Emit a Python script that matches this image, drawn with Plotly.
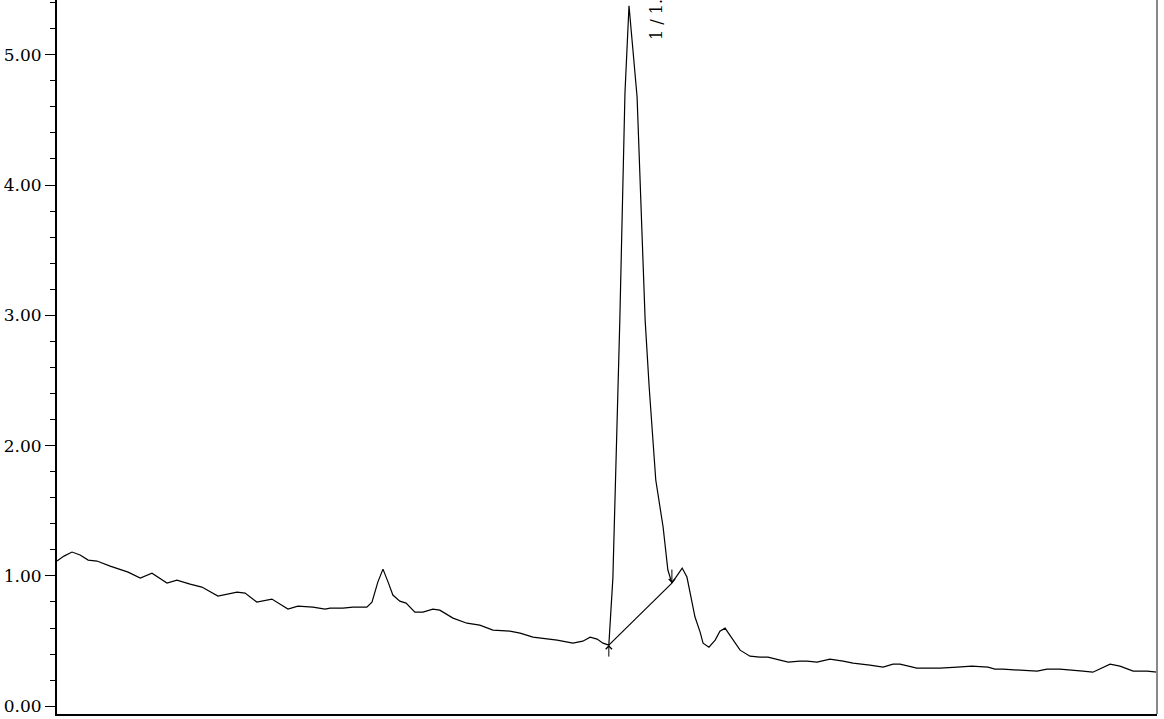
import plotly.graph_objects as go

# Retention time (min) and intensity
time_min = [0.000, 0.019, 0.041, 0.063, 0.085, 0.109, 0.145, 0.194, 0.227, 0.259,
            0.300, 0.327, 0.363, 0.395, 0.439, 0.491, 0.513, 0.545, 0.586, 0.630,
            0.657, 0.698, 0.731, 0.745, 0.780, 0.807, 0.845, 0.859, 0.875, 0.889,
            0.903, 0.916, 0.935, 0.952, 0.976, 0.998, 1.025, 1.044, 1.080, 1.118,
            1.153, 1.189, 1.235, 1.263, 1.298, 1.336, 1.364, 1.407, 1.434, 1.454,
            1.473, 1.489, 1.505, 1.516, 1.535, 1.549, 1.560, 1.582, 1.604, 1.615,
            1.633, 1.653, 1.666, 1.677, 1.691, 1.705, 1.718, 1.740, 1.754, 1.762,
            1.778, 1.795, 1.808, 1.822, 1.835, 1.863, 1.890, 1.917, 1.939, 1.964,
            1.994, 2.026, 2.045, 2.073, 2.108, 2.144, 2.171, 2.217, 2.253, 2.280,
            2.299, 2.345, 2.381, 2.408, 2.455, 2.495, 2.539, 2.558, 2.580, 2.618,
            2.673, 2.700, 2.735, 2.798, 2.825, 2.872, 2.899, 2.935, 2.973, 3.000]
intensity = [1.114, 1.152, 1.183, 1.160, 1.121, 1.114, 1.075, 1.029, 0.983, 1.021,
             0.945, 0.968, 0.937, 0.914, 0.845, 0.876, 0.868, 0.799, 0.822, 0.745,
             0.768, 0.760, 0.745, 0.753, 0.753, 0.760, 0.760, 0.799, 0.952, 1.052,
             0.952, 0.853, 0.806, 0.791, 0.722, 0.722, 0.745, 0.737, 0.676, 0.637,
             0.622, 0.584, 0.576, 0.561, 0.530, 0.515, 0.507, 0.484, 0.499, 0.530,
             0.515, 0.484, 0.469, 0.983, 2.965, 4.708, 5.376, 4.677, 2.965, 2.450,
             1.736, 1.375, 1.045, 0.945, 1.006, 1.060, 0.991, 0.684, 0.568, 0.484,
             0.453, 0.507, 0.576, 0.599, 0.545, 0.430, 0.384, 0.376, 0.376, 0.361,
             0.338, 0.346, 0.346, 0.338, 0.361, 0.346, 0.330, 0.315, 0.300, 0.323,
             0.323, 0.292, 0.292, 0.292, 0.300, 0.307, 0.300, 0.284, 0.284, 0.276,
             0.269, 0.284, 0.284, 0.269, 0.261, 0.323, 0.307, 0.269, 0.269, 0.261]

# Integration baseline of peak 1 (start, end)
baseline_time = [1.505, 1.677]
baseline_int = [0.469, 0.945]
marker_tail = [0.369, 1.060]   # tails of the start / end markers

peak_label = "1 / 1.56"
peak_label_time = 1.633
peak_label_int = 5.10

y_ticks = [0, 1, 2, 3, 4, 5]
y_ticktext = ["0.00", "1.00", "2.00", "3.00", "4.00", "5.00"]

FONT = "DejaVu Serif, Liberation Serif, serif"

fig = go.Figure()
fig.add_trace(go.Scatter(x=time_min, y=intensity, mode="lines",
                         line=dict(color="black", width=1.2), showlegend=False,
                         hoverinfo="skip"))
fig.add_trace(go.Scatter(x=baseline_time, y=baseline_int, mode="lines",
                         line=dict(color="black", width=1.2), showlegend=False,
                         hoverinfo="skip"))

for t, v, tail in zip(baseline_time, baseline_int, marker_tail):
    fig.add_annotation(x=t, y=v, ax=t, ay=tail, xref="x", yref="y",
                       axref="x", ayref="y", text="", showarrow=True,
                       arrowhead=4, arrowsize=1.2, arrowwidth=1, arrowcolor="black")

fig.add_annotation(x=peak_label_time, y=peak_label_int, xref="x", yref="y",
                   text=peak_label, showarrow=False, textangle=-90,
                   xanchor="center", yanchor="bottom",
                   font=dict(family=FONT, size=16, color="black"))

fig.add_annotation(x=1, y=0, xref="paper", yref="paper", text="TIC: 1.56",
                   showarrow=False, xanchor="right", yanchor="top", yshift=-1,
                   font=dict(family=FONT, size=14, color="#555555"))

fig.add_shape(type="line", xref="paper", yref="paper", x0=1, x1=1, y0=0, y1=1,
              line=dict(color="#888888", width=2))

fig.update_layout(
    width=1164, height=719,
    margin=dict(l=57, r=7, t=0, b=5),
    paper_bgcolor="white", plot_bgcolor="white",
    font=dict(family=FONT, size=17, color="black"),
    hovermode=False,
    xaxis=dict(range=[0, 3.0], showgrid=False, zeroline=False, automargin=False,
               showticklabels=False, ticks="", showline=True,
               linecolor="black", linewidth=2),
    yaxis=dict(range=[-0.06, 5.42], showgrid=False, zeroline=False,
               automargin=False,
               tickvals=y_ticks, ticktext=y_ticktext, ticks="outside",
               ticklen=10, tickwidth=1, tickcolor="black",
               showline=True, linecolor="black", linewidth=2,
               tickfont=dict(family=FONT, size=17, color="black"),
               minor=dict(dtick=0.2, ticks="outside", ticklen=5,
                          tickcolor="black", tickwidth=1, showgrid=False)),
)

fig.write_html("out.html", config={"displayModeBar": False},
               post_script="document.body.style.margin='0';document.body.style.overflow='hidden';")
